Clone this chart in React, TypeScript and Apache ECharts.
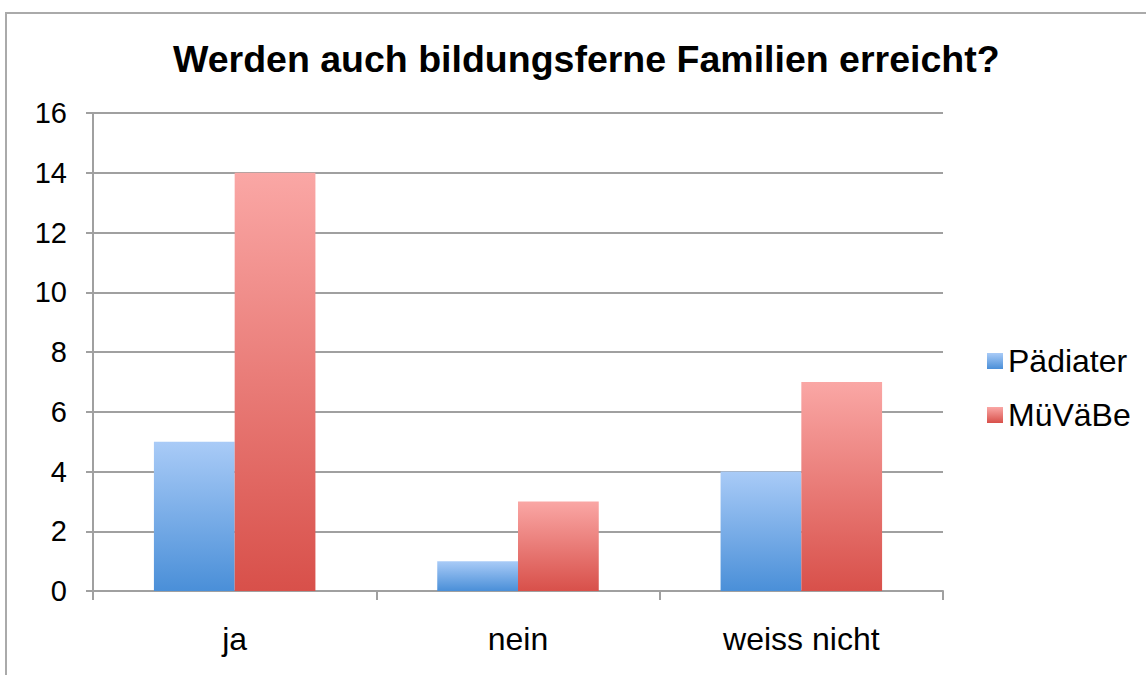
import React, { useEffect, useRef } from "react";
import * as echarts from "echarts";

const title = "Werden auch bildungsferne Familien erreicht?";
const categories = ["ja", "nein", "weiss nicht"];
const seriesNames = ["Pädiater", "MüVäBe"];
const paediater = [5, 1, 4];
const muevaebe = [14, 3, 7];
const yTicks = { min: 0, max: 16, interval: 2 };

const FONT = "'Liberation Sans', Arial, Helvetica, sans-serif";

function grad(top: string, bottom: string) {
  return new echarts.graphic.LinearGradient(0, 0, 0, 1, [
    { offset: 0, color: top },
    { offset: 1, color: bottom },
  ]);
}

export default function App() {
  const ref = useRef<HTMLDivElement>(null);
  useEffect(() => {
    document.body.style.margin = "0";
    if (!ref.current) return;
    const chart = echarts.init(ref.current, null, { renderer: "svg" });
    chart.setOption({
      animation: false,
      backgroundColor: "#ffffff",
      textStyle: { fontFamily: FONT },
      graphic: [
        {
          type: "rect",
          shape: { x: 6, y: 13, width: 1200, height: 700 },
          style: { fill: "none", stroke: "#aaaaaa", lineWidth: 2 },
          silent: true,
        },
      ],
      title: {
        text: title,
        left: 173,
        top: 40,
        padding: 0,
        textStyle: { fontFamily: FONT, fontSize: 37.5, fontWeight: "bold", color: "#000" },
      },
      legend: {
        orient: "vertical",
        left: 987,
        top: 345,
        padding: 0,
        itemWidth: 16,
        itemHeight: 16,
        itemGap: 22,
        icon: "rect",
        textStyle: { fontFamily: FONT, fontSize: 32, color: "#000" },
        data: seriesNames,
      },
      grid: { left: 93, right: 203, top: 113, bottom: 84, containLabel: false },
      xAxis: {
        type: "category",
        data: categories,
        axisLine: { lineStyle: { color: "#a0a0a0", width: 2 } },
        axisTick: { show: true, length: 9, lineStyle: { color: "#a0a0a0", width: 2 } },
        axisLabel: { fontFamily: FONT, fontSize: 32, color: "#000", margin: 32 },
      },
      yAxis: {
        type: "value",
        min: yTicks.min,
        max: yTicks.max,
        interval: yTicks.interval,
        axisLine: { show: true, lineStyle: { color: "#a0a0a0", width: 2 } },
        axisTick: { show: true, length: 7, lineStyle: { color: "#a0a0a0", width: 2 } },
        axisLabel: { fontFamily: FONT, fontSize: 29, color: "#000", margin: 26 },
        splitLine: { lineStyle: { color: "#a0a0a0", width: 2 } },
      },
      series: [
        {
          name: seriesNames[0],
          type: "bar",
          data: paediater,
          barGap: "0%",
          barCategoryGap: "43%",
          itemStyle: { color: grad("#a9cbf7", "#4a8fd8") },
        },
        {
          name: seriesNames[1],
          type: "bar",
          data: muevaebe,
          barGap: "0%",
          barCategoryGap: "43%",
          itemStyle: { color: grad("#faa7a5", "#d8504a") },
        },
      ],
    });
    return () => chart.dispose();
  }, []);
  return <div ref={ref} style={{ width: 1146, height: 675 }} />;
}
